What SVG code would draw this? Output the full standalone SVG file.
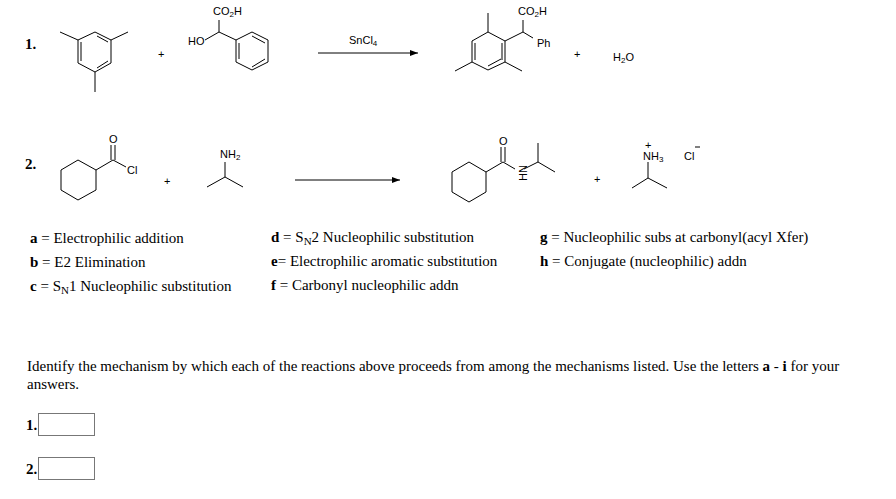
<svg xmlns="http://www.w3.org/2000/svg" width="896" height="499" viewBox="0 0 896 499">
<style>
.b{stroke:#000;stroke-width:1;fill:none}
.c{font-family:"Liberation Sans",Arial,sans-serif;font-size:11px;fill:#000}
.s{font-family:"Liberation Serif","Times New Roman",serif;font-size:15px;fill:#000}
.n{font-weight:bold}
.box{fill:#fff;stroke:#777;stroke-width:1}
</style>
<defs><marker id="ah" markerWidth="8" markerHeight="6" refX="8" refY="3" orient="auto"><path d="M0,0 L8,3 L0,6 Z" fill="#000"/></marker></defs>
<rect width="896" height="499" fill="#fff"/>
<g id="rxn1">
<text x="25" y="49" class="s n">1.</text>
<path class="b" d="M95,32 L111,40 L111,63 L95,72 L78,63 L78,40 Z M81,42 L81,61 M97,36 L108,42 M97,68 L108,61 M78,40 L60,32 M111,40 L128,32 M95,72 L95,92"/>
<text x="158" y="58" class="c">+</text>
<text x="213" y="15" class="c">CO<tspan font-size="8" dy="2">2</tspan><tspan dy="-2">H</tspan></text>
<text x="188" y="45" class="c">HO</text>
<path class="b" d="M219,20 L219,32 L205,40 M219,32 L236,40"/>
<path class="b" d="M236,40 L252,32 L268,40 L268,62 L252,70 L236,62 Z M239,43 L239,59 M252,36 L265,43 M252,67 L265,59"/>
<text x="349" y="44" class="c">SnCl<tspan font-size="8" dy="2">4</tspan></text>
<line class="b" x1="318" y1="53" x2="418" y2="53" marker-end="url(#ah)"/>
<path class="b" d="M488,32 L505,41 L505,62 L488,70 L472,62 L472,41 Z M502,43 L502,60 M475,43 L475,60 M488,66 L501,59 M488,32 L488,13 M472,62 L455,71 M505,62 L522,71 M505,41 L523,32 L523,20 M523,32 L533,38"/>
<text x="518" y="15" class="c">CO<tspan font-size="8" dy="2">2</tspan><tspan dy="-2">H</tspan></text>
<text x="537" y="47" class="c">Ph</text>
<text x="574" y="58" class="c">+</text>
<text x="613" y="61" class="c">H<tspan font-size="8" dy="2">2</tspan><tspan dy="-2">O</tspan></text>
</g>
<g id="rxn2">
<text x="25" y="169" class="s n">2.</text>
<path class="b" d="M78,160 L96,170 L96,190 L78,200 L61,190 L61,170 Z M96,170 L113,160 L126,167 M111,160 L111,145 M115,160 L115,145"/>
<text x="109" y="143" class="c">O</text>
<text x="127" y="174" class="c">Cl</text>
<text x="164" y="185" class="c">+</text>
<text x="220" y="158" class="c">NH<tspan font-size="8" dy="2">2</tspan></text>
<path class="b" d="M225,162 L225,177 L207,187 M225,177 L243,187"/>
<line class="b" x1="295" y1="180" x2="400" y2="180" marker-end="url(#ah)"/>
<path class="b" d="M469,162 L486,172 L486,192 L469,202 L452,192 L452,172 Z M486,172 L503,162 L515,169 M501,162 L501,147 M505,162 L505,147 M524,169 L538,162 L538,143 M538,162 L555,172"/>
<text x="499" y="145" class="c">O</text>
<text x="519" y="165" class="c" transform="rotate(90 519 165)">NH</text>
<text x="594" y="183" class="c">+</text>
<text x="645" y="149" class="c" font-size="9">+</text>
<text x="643" y="160" class="c">NH<tspan font-size="8" dy="2">3</tspan></text>
<path class="b" d="M648,162 L648,178 L632,188 M648,178 L667,188"/>
<text x="684" y="160" class="c">Cl</text>
<line class="b" x1="695" y1="147" x2="700" y2="147"/>
</g>
<g id="legend">
<text x="30" y="243" class="s"><tspan class="n">a</tspan> = Electrophilic addition</text>
<text x="30" y="267" class="s"><tspan class="n">b</tspan> = E2 Elimination</text>
<text x="30" y="291" class="s"><tspan class="n">c</tspan> = S<tspan font-size="11" dy="3">N</tspan><tspan dy="-3">1 Nucleophilic substitution</tspan></text>
<text x="271" y="242" class="s"><tspan class="n">d</tspan> = S<tspan font-size="11" dy="3">N</tspan><tspan dy="-3">2 Nucleophilic substitution</tspan></text>
<text x="271" y="266" class="s"><tspan class="n">e</tspan>= Electrophilic aromatic substitution</text>
<text x="271" y="290" class="s"><tspan class="n">f</tspan> = Carbonyl nucleophilic addn</text>
<text x="540" y="242" class="s"><tspan class="n">g</tspan> = Nucleophilic subs at carbonyl(acyl Xfer)</text>
<text x="540" y="266" class="s"><tspan class="n">h</tspan> = Conjugate (nucleophilic) addn</text>
</g>
<g id="question">
<text x="27" y="371" class="s">Identify the mechanism by which each of the reactions above proceeds from among the mechanisms listed. Use the letters <tspan class="n">a</tspan> - <tspan class="n">i</tspan> for your</text>
<text x="27" y="389" class="s">answers.</text>
<text x="26" y="430" class="s n">1.</text>
<rect class="box" x="38.5" y="413.5" width="56" height="22"/>
<text x="26" y="474" class="s n">2.</text>
<rect class="box" x="38.5" y="457.5" width="56" height="22"/>
</g>
</svg>
